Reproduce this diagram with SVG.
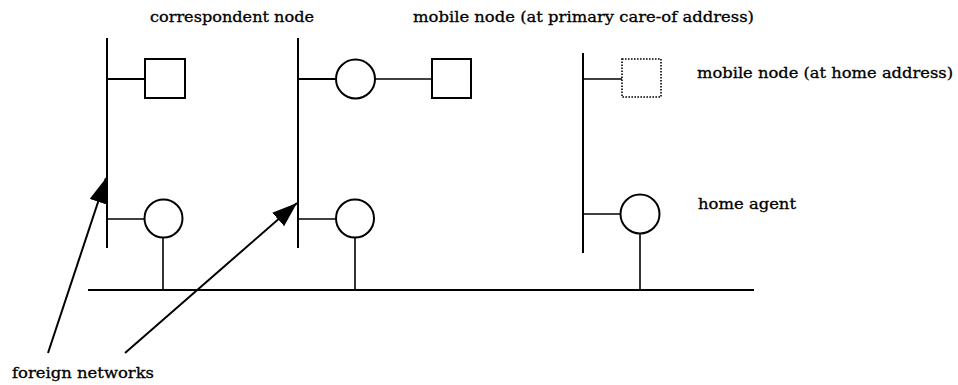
<svg xmlns="http://www.w3.org/2000/svg" width="958" height="385" viewBox="0 0 958 385">
<style>
.ln{stroke:#000;stroke-width:2;fill:none}
.th{stroke:#000;stroke-width:1.6;fill:none}
.shape{stroke:#000;stroke-width:2;fill:#fff}
.dot{stroke:#000;stroke-width:1.6;fill:#fff;stroke-dasharray:1.6 1.4}
text{font-family:"DejaVu Serif","Liberation Serif",serif;font-size:15px;fill:#000;stroke:#000;stroke-width:0.3}
</style>
<defs>
<marker id="ah" markerUnits="userSpaceOnUse" markerWidth="26" markerHeight="20" refX="25" refY="9" orient="auto">
<path d="M0,0 L25,9 L0,18 z" fill="#000"/>
</marker>
</defs>
<rect width="958" height="385" fill="#fff"/>
<g id="connectors">
<line class="ln" x1="107" y1="38" x2="107" y2="248"/>
<line class="ln" x1="298" y1="38" x2="298" y2="248"/>
<line class="ln" x1="583" y1="53" x2="583" y2="253"/>
<line class="ln" x1="88" y1="290" x2="754" y2="290" stroke-width="2.5"/>
<line class="ln" x1="107" y1="79" x2="145" y2="79"/>
<line class="ln" x1="298" y1="79" x2="336" y2="79"/>
<line class="th" x1="375" y1="79" x2="432" y2="79"/>
<line class="th" x1="583" y1="79" x2="622" y2="79"/>
<line class="th" x1="107" y1="219" x2="144" y2="219"/>
<line class="th" x1="298" y1="219" x2="336" y2="219"/>
<line class="th" x1="583" y1="214" x2="621" y2="214"/>
<line class="th" x1="163" y1="237" x2="163" y2="290"/>
<line class="th" x1="355" y1="237" x2="355" y2="290"/>
<line class="th" x1="640" y1="234" x2="640" y2="290"/>
<line class="ln" x1="48" y1="353" x2="106" y2="178" marker-end="url(#ah)"/>
<line class="ln" x1="125" y1="353" x2="297" y2="203" marker-end="url(#ah)"/>
</g>
<g id="correspondent-node">
<rect class="shape" x="145" y="59" width="40" height="39"/>
<text x="150" y="22" textLength="164" lengthAdjust="spacingAndGlyphs">correspondent node</text>
</g>
<g id="foreign-agent-1">
<circle class="shape" cx="163.5" cy="218.5" r="19"/>
</g>
<g id="foreign-agent-2">
<circle class="shape" cx="355.5" cy="79" r="19.5"/>
</g>
<g id="mobile-node-coa">
<rect class="shape" x="432" y="59" width="39" height="39"/>
<text x="413" y="22" textLength="341" lengthAdjust="spacingAndGlyphs">mobile node (at primary care-of address)</text>
</g>
<g id="router-2">
<circle class="shape" cx="355" cy="218.5" r="19"/>
</g>
<g id="mobile-node-home">
<rect class="dot" x="622" y="59" width="39" height="38"/>
<text x="697" y="78" textLength="256" lengthAdjust="spacingAndGlyphs">mobile node (at home address)</text>
</g>
<g id="home-agent">
<circle class="shape" cx="640" cy="214" r="19.5"/>
<text x="698" y="209" textLength="98" lengthAdjust="spacingAndGlyphs">home agent</text>
</g>
<g id="foreign-networks-label">
<text x="12" y="378" textLength="142" lengthAdjust="spacingAndGlyphs">foreign networks</text>
</g>
</svg>
